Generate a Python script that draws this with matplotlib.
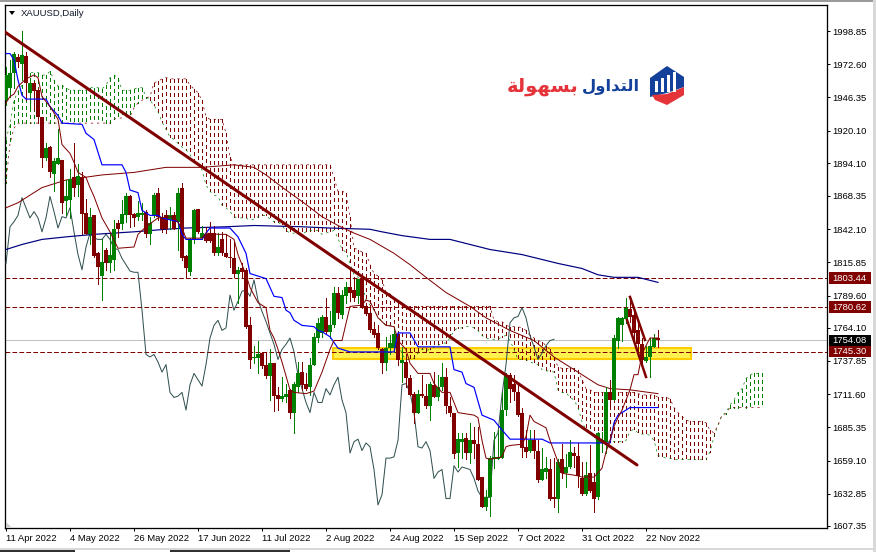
import matplotlib
matplotlib.use("Agg")
import matplotlib.pyplot as plt
from matplotlib.patches import Polygon, Rectangle

W, H = 876, 552
plt.rcParams["font.family"] = ["Liberation Sans", "DejaVu Sans"]
plt.rcParams["lines.scale_dashes"] = False

# --- daily candles ---
highs = [1970,1976,1982,1981,1999,1982,1962,1959,1954,1931,
         1910,1908,1898,1921,1897,1881,1890,1910,1894,1887,
         1866,1859,1853,1824,1834,1827,1838,1849,1849,1865,
         1871,1869,1855,1864,1863,1857,1852,1871,1875,1855,
         1857,1860,1856,1875,1879,1822,1835,1858,1858,1845,
         1844,1848,1845,1839,1840,1838,1834,1832,1812,1815,
         1811,1773,1750,1754,1745,1745,1747,1736,1717,1725,
         1720,1716,1721,1737,1737,1728,1740,1760,1772,1774,
         1788,1777,1796,1796,1794,1800,1810,1804,1803,1807,
         1784,1782,1769,1766,1748,1757,1758,1765,1759,1749,
         1743,1727,1713,1715,1727,1720,1721,1729,1727,1736,
         1732,1709,1697,1681,1681,1681,1689,1686,1686,1646,
         1636,1663,1682,1683,1713,1728,1728,1727,1720,1701,
         1683,1683,1683,1675,1669,1662,1660,1661,1660,1672,
         1664,1675,1670,1673,1658,1658,1671,1649,1682,1682,
         1717,1723,1758,1773,1773,1788,1789,1778,1768,1756,
         1750,1756,1759,1762]
lows = [1940,1947,1954,1970,1960,1944,1939,1936,1926,1891,
        1897,1883,1872,1894,1855,1853,1851,1868,1868,1838,
        1838,1830,1820,1799,1786,1810,1808,1810,1836,1842,
        1848,1844,1845,1849,1849,1836,1830,1852,1849,1840,
        1839,1842,1842,1826,1818,1804,1806,1831,1839,1834,
        1832,1832,1822,1822,1822,1820,1812,1804,1784,1804,
        1764,1732,1736,1728,1732,1724,1707,1698,1699,1706,
        1705,1693,1681,1713,1715,1715,1711,1735,1753,1757,
        1760,1756,1765,1772,1772,1784,1785,1785,1784,1780,
        1774,1761,1757,1747,1728,1731,1743,1745,1735,1721,
        1717,1711,1689,1697,1709,1701,1691,1709,1707,1715,
        1697,1694,1661,1654,1661,1660,1657,1661,1644,1622,
        1620,1615,1653,1660,1661,1695,1705,1707,1694,1662,
        1662,1666,1661,1642,1644,1645,1628,1622,1618,1645,
        1638,1653,1654,1638,1632,1632,1634,1618,1629,1666,
        1665,1703,1707,1748,1754,1768,1769,1752,1744,1732,
        1737,1725,1749,1749]
body_top = [1964,1966,1981,1978,1980,1979,1958,1958,1952,1931,
            1906,1907,1896,1898,1897,1868,1882,1883,1884,1883,
            1855,1852,1853,1823,1816,1826,1822,1842,1847,1854,
            1868,1868,1854,1855,1855,1856,1847,1869,1871,1852,
            1853,1853,1853,1871,1875,1821,1834,1857,1858,1839,
            1838,1839,1839,1828,1834,1823,1820,1819,1810,1811,
            1810,1766,1741,1743,1744,1735,1736,1736,1711,1710,
            1712,1715,1720,1728,1729,1720,1735,1757,1768,1773,
            1773,1766,1792,1792,1790,1796,1796,1794,1803,1803,
            1781,1776,1763,1760,1747,1748,1752,1759,1759,1739,
            1737,1724,1712,1712,1712,1710,1720,1719,1717,1725,
            1725,1702,1697,1676,1676,1677,1675,1675,1672,1646,
            1630,1661,1662,1662,1699,1727,1727,1720,1713,1697,
            1670,1675,1675,1667,1652,1653,1652,1630,1658,1660,
            1654,1666,1665,1663,1645,1648,1649,1642,1681,1675,
            1713,1713,1756,1772,1772,1780,1779,1774,1762,1751,
            1741,1750,1756,1756]
body_bot = [1944,1954,1966,1974,1973,1958,1950,1951,1931,1898,
            1898,1887,1886,1894,1863,1864,1865,1875,1877,1854,
            1838,1838,1821,1812,1805,1815,1815,1818,1842,1846,
            1853,1853,1851,1852,1853,1838,1838,1853,1852,1842,
            1842,1849,1842,1848,1819,1811,1808,1834,1840,1835,
            1833,1833,1823,1823,1823,1820,1819,1807,1807,1808,
            1765,1739,1740,1740,1734,1726,1726,1710,1708,1708,
            1709,1697,1697,1717,1719,1716,1717,1735,1756,1760,
            1761,1761,1766,1776,1774,1789,1792,1788,1789,1780,
            1775,1762,1758,1748,1736,1736,1748,1748,1739,1736,
            1724,1711,1697,1697,1710,1702,1702,1709,1709,1717,
            1702,1697,1664,1665,1674,1665,1665,1672,1644,1622,
            1622,1630,1660,1660,1661,1699,1716,1713,1695,1669,
            1666,1667,1667,1644,1644,1650,1629,1629,1629,1649,
            1649,1654,1663,1647,1633,1633,1635,1629,1630,1673,
            1674,1707,1707,1754,1766,1771,1773,1760,1751,1739,
            1738,1741,1749,1754.08]
up_bars = [0,1,2,4,6,10,12,13,15,16,18,21,24,26,27,29,30,33,34,36,37,41,43,46,47,49,
           53,58,62,63,66,69,70,72,73,76,77,78,79,81,82,84,85,88,95,96,97,99,103,106,
           108,109,113,114,116,120,121,122,123,124,125,131,134,135,138,140,141,145,148,
           149,150,152,153,154,155,160,161,162]

# --- ichimoku cloud, one value per bar (runs 26 bars past the last candle) ---
senkou_a = [1913,1925,1944,1951,1956,1962,1966,1966,1966,1964,
            1964,1967,1960,1955,1956,1954,1952,1952,1952,1952,
            1952,1954,1954,1954,1953,1956,1962,1964,1962,1952,
            1952,1952,1953,1954,1954,1947,1944,1940,1935,1927,
            1921,1915,1913,1910,1907,1905,1901,1895,1893,1889,
            1877,1872,1869,1868,1861,1859,1856,1852,1851,1851,
            1851,1849,1850,1852,1853,1853,1850,1848,1848,1845,
            1841,1839,1839,1838,1838,1840,1841,1841,1841,1838,
            1839,1840,1841,1835,1826,1824,1815,1806,1804,1800,
            1786,1782,1778,1773,1769,1766,1766,1766,1754,1743,
            1739,1739,1740,1744,1747,1746,1747,1749,1750,1752,
            1752,1756,1762,1764,1764,1765,1765,1764,1762,1758,
            1756,1755,1755,1755,1757,1758,1754,1747,1739,1739,
            1739,1737,1736,1735,1731,1730,1730,1729,1715,1713,
            1713,1709,1707,1701,1690,1683,1681,1677,1675,1674,
            1674,1674,1674,1674,1674,1675,1682,1684,1681,1680,
            1680,1679,1675,1663,1662,1661,1661,1660,1660,1660,
            1660,1660,1660,1660,1660,1660,1666,1678,1687,1695,
            1697,1703,1707,1713,1716,1724,1727,1728,1728,1728]
senkou_b = [1879,1910,1922] + [1926] * 24 + [1929,1930,1930,1931,1931,1938,1942,1944,1946,1947,
            1958,1959,1961,1962,1961,1961,1961,1961,1961,1956,1953,1950,1944,1931,
            1929,1929,1929,1929,1918,1899] + [1893] * 25 + [1883,1872,1872,1871,1852,
            1827,1826,1824,1823,1814,1807,1805,1802,1792,1791,1787,1784,1782] + [1781] * 22 + [
            1770,1769,1769,1766,1765,1765,1765,1764,1762,1758,1756,1754,1753,1750,1747,1741,
            1733,1732,1732,1732,1732,1731,1723,1716,1715] + [1713] * 11 + [
            1712,1711,1711,1711,1711,1709,1709,1709,1708,1701,1697,1694,1691,
            1690,1690,1690,1690,1689,1683,1681,1687,1695,1696,1701] + [1701] * 8

# chikou span, shifted back 26 bars
chikou = [1815,1844,1848,1853,1867,1859,1851,1856,1851,1840,
          1851,1868,1856,1843,1852,1851,1859,1840,1822,1810,
          1828,1839,1835,1834,1834,1838,1834,1827,1826,1819,
          1814,1809,1808,1808,1778,1743,1741,1743,1737,1729,
          1735,1713,1709,1710,1713,1699,1719,1728,1723,1718,
          1735,1756,1766,1770,1762,1764,1790,1778,1785,1793,
          1794,1789,1802,1786,1777,1769,1760,1751,1739,1747,
          1751,1756,1745,1727,1716,1705,1697,1713,1705,1705,
          1716,1711,1719,1725,1707,1697,1665,1674,1676,1667,
          1673,1670,1652,1624,1632,1661,1661,1662,1675,1719,
          1720,1713,1697,1670,1669,1674,1667,1645,1650,1652,
          1629,1629,1655,1650,1654,1653,1652,1645,1635,1630,
          1630,1630,1675,1681,1711,1735,1768,1772,1773,1780,
          1772,1758,1749,1739,1744,1750,1754,1755]

# kijun / tenkan and the two moving averages, read at their bends
kijun_x = [0,1,2,3,4,5,10,11,13,14,19,20,22,24,29,30,31,33,34,36,38,39,43,44,45,49,50,51,56,58,60,61,65,67,69,70,71,
           72,74,77,78,79,81,83,86,97,98,101,103,111,112,114,115,117,119,122,123,126,134,136,151,152,153,154,155,156,163]
kijun = [1981,1981,1976,1960,1948,1945,1945,1939,1932,1926,1925,1918,1913,1893,1893,1887,1873,1871,1857,1853,1853,1851,
         1848,1838,1834,1834,1839,1843,1843,1836,1823,1807,1803,1789,1788,1778,1776,
         1770,1766,1765,1762,1761,1757,1748,1745,1745,1760,1760,1749,1749,1731,1729,1720,1717,1695,1691,1687,1676,1676,
         1673,1673,1689,1695,1697,1699,1701,1701]
tenkan_x = [0,1,2,3,5,7,8,9,11,13,14,16,17,18,20,21,22,24,26,28,32,33,35,38,42,44,45,49,50,53,55,57,58,60,61,63,65,66,67,
            68,69,71,72,75,77,79,81,82,84,86,89,90,91,93,95,97,98,100,101,103,106,107,109,111,113,117,118,119,120,121,124,
            125,126,129,130,131,132,135,136,138,139,143,144,147,149,150,151,152,153,154,155,156,157,158,159,160,161,163]
tenkan = [1942,1947,1949,1955,1961,1964,1962,1947,1939,1929,1909,1902,1895,1887,1883,1875,1868,1851,1840,1827,1828,1838,
          1844,1851,1852,1843,1835,1835,1839,1838,1838,1834,1822,1806,1796,1784,1780,1762,1756,1747,1737,1715,1713,1712,
          1714,1729,1747,1754,1754,1781,1782,1786,1785,1772,1766,1765,1754,1747,1736,1728,1728,1720,1713,1713,1697,1695,
          1693,1675,1661,1660,1662,1670,1671,1672,1678,1695,1690,1685,1675,1658,1649,1647,1646,1646,1653,1666,1675,1686,
          1693,1699,1707,1715,1727,1727,1743,1750,1756,1756]
sma_navy_x = [0,4,9,15,22,32,40,45,55,62,74,81,91,94,99,106,111,116,121,129,138,144,148,152,158,163]
sma_navy = [1826,1830,1834,1836,1838,1840,1842,1843,1844,1845,1844,1843,1842,1840,1837,1834,1834,1830,1826,1822,1815,
            1811,1806,1804,1804,1800]
sma_maroon_x = [0,3,9,15,24,32,40,49,57,62,65,70,74,79,83,87,91,97,101,105,110,116,120,126,132,137,143,148,151,156,163]
sma_maroon = [1859,1863,1875,1881,1885,1887,1891,1891,1893,1891,1885,1873,1864,1852,1845,1839,1834,1823,1814,1804,1792,
              1781,1772,1762,1754,1741,1729,1719,1716,1715,1712]

# --- drawn objects on the chart ---
trend_x = [-0.25, 157.75]
trend_y = [1998, 1655.6]
flag_up_x = [156, 159.75]
flag_up_y = [1788.5, 1754.5]
flag_low_x = [155.25, 160]
flag_low_y = [1770.3, 1725.2]
zone_x = [81.75, 171.25]
zone_y = [1739.4, 1748]
level_lines = [1803.44, 1780.62, 1745.30]
last_price = 1754.08

y_ticks = [1998.85,1972.60,1946.35,1920.10,1894.10,1868.35,1842.10,1815.85,1789.60,1764.10,
           1737.85,1711.60,1685.35,1659.10,1632.85,1607.35]
x_tick_pos = [0,16,32,48,64,80,96,112,128,144,160]
x_tick_labels = ["11 Apr 2022","4 May 2022","26 May 2022","17 Jun 2022","11 Jul 2022","2 Aug 2022",
                 "24 Aug 2022","15 Sep 2022","7 Oct 2022","31 Oct 2022","22 Nov 2022"]

GREEN = "#008000"
MAROON = "#800000"
LW = 0.72   # one pixel at 100 dpi


def fig_xy(x, y):
    # pixel position in the picture -> figure fraction
    return x / W, 1 - y / H


fig = plt.figure(figsize=(W / 100, H / 100), dpi=100, facecolor="white")
ax = fig.add_axes([5 / W, 1 - 528 / H, 822 / W, 523 / H])
ax.set_xlim(-0.25, 205.25)
ax.set_ylim(1998.85 - 497 * 0.791, 1998.85 + 26 * 0.791)

# yellow zone, under everything else
ax.add_patch(Rectangle((zone_x[0], zone_y[0]), zone_x[1] - zone_x[0], zone_y[1] - zone_y[0],
                       facecolor="#FFF150", edgecolor="#FFCC00", linewidth=1.5, zorder=1))

# horizontal levels
ax.axhline(last_price, color="#C0C0C0", lw=LW, zorder=1.5)
for lvl in level_lines:
    ax.axhline(lvl, color=MAROON, lw=LW, linestyle=(0, (3.4, 1.6)), zorder=1.5)

# cloud hatching, one dotted stroke per bar
hatch = (0, (2.3, 2.3))
edge = (0, (1.6, 2.8))
for i, (a, b) in enumerate(zip(senkou_a, senkou_b)):
    col = GREEN if a > b else MAROON
    ax.plot([i, i], [max(a, b), min(a, b)], color=col, lw=LW, linestyle=hatch, antialiased=False, zorder=2)
ax.plot(range(len(senkou_a)), senkou_a, color=GREEN, lw=0.5, linestyle=edge, zorder=2)
ax.plot(range(len(senkou_b)), senkou_b, color=MAROON, lw=0.5, linestyle=edge, zorder=2)

# indicator lines
ax.plot(range(len(chikou)), chikou, color="#2F4F4F", lw=LW, zorder=3)
ax.plot(sma_navy_x, sma_navy, color="#000080", lw=LW * 1.2, zorder=3)
ax.plot(sma_maroon_x, sma_maroon, color=MAROON, lw=LW, zorder=3)

# candles
for i in range(len(highs)):
    col = GREEN if i in up_bars else MAROON
    ax.plot([i, i], [lows[i], highs[i]], color=col, lw=LW, antialiased=False, solid_capstyle="butt", zorder=4)
    ax.add_patch(Rectangle((i - 0.4, body_bot[i]), 0.8, body_top[i] - body_bot[i], facecolor=col,
                           edgecolor="none", antialiased=False, zorder=4))

ax.plot(kijun_x, kijun, color="#0000FF", lw=LW * 1.2, zorder=5)
ax.plot(tenkan_x, tenkan, color=MAROON, lw=LW, zorder=5)

# trend lines
ax.plot(trend_x, trend_y, color=MAROON, lw=2.2, solid_capstyle="round", zorder=6)
ax.plot(flag_up_x, flag_up_y, color=MAROON, lw=1.8, zorder=6)
ax.plot(flag_low_x, flag_low_y, color=MAROON, lw=1.8, zorder=6)

# axes and tick labels
for s in ax.spines.values():
    s.set_linewidth(LW * 1.3)
    s.set_color("black")
ax.yaxis.tick_right()
ax.set_yticks(y_ticks)
ax.set_yticklabels([f"{v:.2f}" for v in y_ticks], fontsize=6.8, color="black")
ax.set_xticks(x_tick_pos)
ax.set_xticklabels(x_tick_labels, fontsize=6.8, color="black", ha="left")
ax.tick_params(axis="y", length=2.2, width=LW, pad=1.6)
ax.tick_params(axis="x", length=2.2, width=LW, pad=2.0)

# price tags on the right scale
tags = [(1803.44, MAROON), (1780.62, MAROON), (1754.08, "black"), (1745.30, MAROON)]
tag_trans = ax.get_yaxis_transform()
for price, col in tags:
    ax.add_patch(Rectangle((824 / 822, price - 4.6), 42 / 822, 9.2, facecolor=col, edgecolor="none",
                           transform=tag_trans, clip_on=False, zorder=7))
    ax.text(844.5 / 822, price - 0.2, f"{price:.2f}", color="white", fontsize=6.8, ha="center", va="center",
            transform=tag_trans, clip_on=False, zorder=8)

# chart title
fig.add_artist(Polygon([fig_xy(9, 11), fig_xy(15, 11), fig_xy(12, 15)], closed=True, facecolor="black",
                       edgecolor="none", transform=fig.transFigure))
fig.text(*fig_xy(21, 14), "XAUUSD,Daily", fontsize=6.8, color="#10182a", ha="left", va="center")

# logo, Arabic given in presentation forms and visual order (matplotlib does no shaping)
fig.text(*fig_xy(578, 86), "\uFE94\uFEDF\uFEEE\uFEEC\uFEB4\uFE91", fontsize=14, fontweight="bold",
         family="DejaVu Sans", color="#E5333A", ha="right", va="center")
fig.text(*fig_xy(640, 86), "\uFEDD\uFEED\uFE8D\uFEAA\uFE98\uFEDF\uFE8D", fontsize=11.8, fontweight="bold",
         family="DejaVu Sans", color="#12409A", ha="right", va="center")
navy_shape = [(650, 78), (667, 66), (684, 77), (684, 87), (667, 93), (650, 97)]
red_shape = [(684, 87), (684, 95), (667, 105), (655, 100), (652, 95), (667, 94)]
fig.add_artist(Polygon([fig_xy(*p) for p in navy_shape], closed=True, facecolor="#12409A", edgecolor="none",
                       transform=fig.transFigure))
fig.add_artist(Polygon([fig_xy(*p) for p in red_shape], closed=True, facecolor="#E5333A", edgecolor="none",
                       transform=fig.transFigure))
for bx, top in zip([655, 661, 667, 673], [81, 78, 75, 72]):
    fig.add_artist(Rectangle(fig_xy(bx, 92), 3 / W, (92 - top) / H, facecolor="white", edgecolor="none",
                             transform=fig.transFigure))

# window frame around the chart
frame = [(0, 0, 876, 2, "#9A9A9A"), (873, 0, 3, 552, "#D8D8D8"), (0, 548, 876, 2, "#D8D8D8"),
         (0, 550, 75, 2, "#303030"), (170, 550, 120, 2, "#303030")]
for fx, fy, fw, fh, col in frame:
    fig.add_artist(Rectangle(fig_xy(fx, fy + fh), fw / W, fh / H, facecolor=col, edgecolor="none",
                             transform=fig.transFigure))
fig.add_artist(Polygon([fig_xy(6, 522), fig_xy(6, 527), fig_xy(11, 527)], closed=True, facecolor="#C8C8C8",
                       edgecolor="none", transform=fig.transFigure))

fig.savefig("out.png", dpi=100)
